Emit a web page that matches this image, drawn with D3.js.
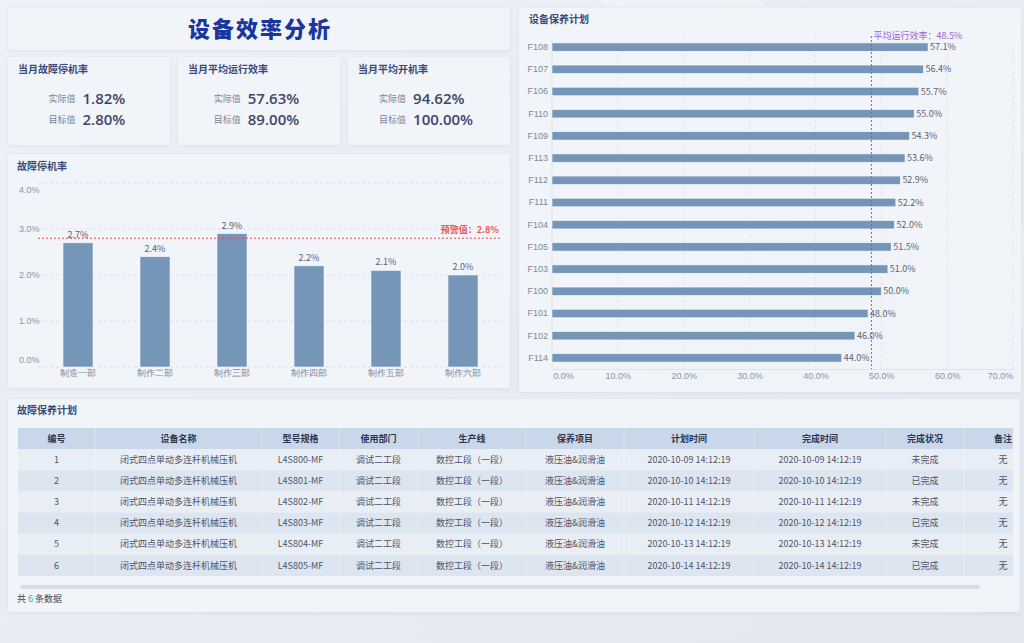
<!DOCTYPE html>
<html>
<head>
<meta charset="utf-8">
<script src="https://cdn.jsdelivr.net/npm/d3@7"></script>
<style>
  html, body { margin: 0; padding: 0; background: #e7ecf3; }
  svg { display: block; font-family: "Noto Sans CJK SC", "Noto Sans", sans-serif; }
</style>
</head>
<body>
<svg id="svg" width="1024" height="643"></svg>
<script>
// ---- data ----
var kpiTitles = ['当月故障停机率', '当月平均运行效率', '当月平均开机率'];
var kpiActual = ['1.82%', '57.63%', '94.62%'];
var kpiTarget = ['2.80%', '89.00%', '100.00%'];

var deptNames = ['制造一部', '制作二部', '制作三部', '制作四部', '制作五部', '制作六部'];
var downtimeRates = [2.7, 2.4, 2.9, 2.2, 2.1, 2.0];
var warnValue = 2.8;
var downtimeTicks = [0, 1, 2, 3, 4];

var equipIds = ['F108', 'F107', 'F106', 'F110', 'F109', 'F113', 'F112', 'F111', 'F104', 'F105', 'F103', 'F100', 'F101', 'F102', 'F114'];
var equipEff = [57.1, 56.4, 55.7, 55.0, 54.3, 53.6, 52.9, 52.2, 52.0, 51.5, 51.0, 50.0, 48.0, 46.0, 44.0];
var avgEff = 48.5;
var effTicks = [0, 10, 20, 30, 40, 50, 60, 70];

var tableHeaders = ['编号', '设备名称', '型号规格', '使用部门', '生产线', '保养项目', '计划时间', '完成时间', '完成状况', '备注'];
var rowIds = ['1', '2', '3', '4', '5', '6'];
var rowNames = ['闭式四点单动多连杆机械压机', '闭式四点单动多连杆机械压机', '闭式四点单动多连杆机械压机', '闭式四点单动多连杆机械压机', '闭式四点单动多连杆机械压机', '闭式四点单动多连杆机械压机'];
var rowModels = ['L4S800-MF', 'L4S801-MF', 'L4S802-MF', 'L4S803-MF', 'L4S804-MF', 'L4S805-MF'];
var rowDepts = ['调试二工段', '调试二工段', '调试二工段', '调试二工段', '调试二工段', '调试二工段'];
var rowLines = ['数控工段（一段）', '数控工段（一段）', '数控工段（一段）', '数控工段（一段）', '数控工段（一段）', '数控工段（一段）'];
var rowItems = ['液压油&润滑油', '液压油&润滑油', '液压油&润滑油', '液压油&润滑油', '液压油&润滑油', '液压油&润滑油'];
var rowPlan = ['2020-10-09 14:12:19', '2020-10-10 14:12:19', '2020-10-11 14:12:19', '2020-10-12 14:12:19', '2020-10-13 14:12:19', '2020-10-14 14:12:19'];
var rowDone = ['2020-10-09 14:12:19', '2020-10-10 14:12:19', '2020-10-11 14:12:19', '2020-10-12 14:12:19', '2020-10-13 14:12:19', '2020-10-14 14:12:19'];
var rowStatus = ['未完成', '已完成', '未完成', '已完成', '未完成', '已完成'];
var rowNotes = ['无', '无', '无', '无', '无', '无'];

var svg = d3.select('svg');

// background
var defs = svg.append('defs');
var bg = defs.append('linearGradient').attr('id', 'bg').attr('x1', 0).attr('y1', 0).attr('x2', 1).attr('y2', 1);
bg.append('stop').attr('offset', '0%').attr('stop-color', '#eef1f6');
bg.append('stop').attr('offset', '100%').attr('stop-color', '#e3e8f0');
var sh = defs.append('filter').attr('id', 'shadow').attr('x', '-5%').attr('y', '-5%').attr('width', '110%').attr('height', '110%');
sh.append('feDropShadow').attr('dx', 0).attr('dy', 1).attr('stdDeviation', 2)
    .attr('flood-color', '#b8c2d3').attr('flood-opacity', 0.35);
defs.append('clipPath').attr('id', 'tableClip').append('rect')
    .attr('x', 18).attr('y', 420).attr('width', 995).attr('height', 170);

svg.append('rect').attr('width', 1024).attr('height', 643).attr('fill', 'url(#bg)');
svg.append('path').attr('d', 'M600,0 L760,0 L1024,230 L1024,330 Z').attr('fill', '#ffffff').attr('opacity', 0.25);

function panel(x, y, w, h) {
    svg.append('rect').attr('x', x).attr('y', y).attr('width', w).attr('height', h)
        .attr('rx', 3).attr('fill', '#f2f5f9').attr('fill-opacity', 0.92)
        .attr('filter', 'url(#shadow)');
}
function panelTitle(x, y, t) {
    svg.append('text').attr('x', x).attr('y', y).attr('dy', '0.35em')
        .attr('font-size', 10).attr('font-weight', 700).attr('fill', '#3b4a78').text(t);
}

// title
panel(8, 8, 502, 42);
svg.append('text').attr('x', 260).attr('y', 29).attr('dy', '0.35em')
    .attr('text-anchor', 'middle').attr('font-size', 22).attr('font-weight', 900)
    .attr('letter-spacing', 2).attr('fill', '#1b36a0').text('设备效率分析');

// kpi cards
var cardX = [8, 178, 348];
kpiTitles.forEach(function (t, i) {
    var x0 = cardX[i];
    panel(x0, 57, 162, 88);
    panelTitle(x0 + 10, 69, t);
    var cx = x0 + 81;
    var valW = kpiTarget[i].length * 9.4;
    var gx = cx - (26 + 6 + valW) / 2;
    [['实际值', kpiActual[i], 99], ['目标值', kpiTarget[i], 120]].forEach(function (r) {
        svg.append('text').attr('x', gx + 26).attr('y', r[2]).attr('dy', '0.35em')
            .attr('text-anchor', 'end').attr('font-size', 9).attr('fill', '#7c8396').text(r[0]);
        svg.append('text').attr('x', gx + 33).attr('y', r[2]).attr('dy', '0.36em')
            .attr('font-family', '"Open Sans", sans-serif')
            .attr('font-size', 15).attr('font-weight', 600).attr('fill', '#3e4767').text(r[1]);
    });
});

// ---- downtime bar chart ----
panel(8, 154, 502, 234);
panelTitle(17, 166, '故障停机率');

var x1 = d3.scaleBand().domain(deptNames).range([39.5, 501.5]).paddingInner(0.61).paddingOuter(0.305);
var y1 = d3.scaleLinear().domain([0, 4]).range([367, 183]);

var g1 = svg.append('g');
g1.selectAll('line.grid').data(downtimeTicks).enter().append('line')
    .attr('x1', 38).attr('x2', 502)
    .attr('y1', function (d) { return y1(d); }).attr('y2', function (d) { return y1(d); })
    .attr('stroke', '#dde2ea').attr('stroke-dasharray', '3,3');

var yAx1 = g1.append('g').attr('transform', 'translate(19,0)')
    .call(d3.axisRight(y1).tickValues(downtimeTicks).tickSize(0)
        .tickFormat(function (d) { return d.toFixed(1) + '%'; }));
yAx1.select('.domain').remove();
yAx1.selectAll('text').attr('x', 0).attr('font-size', 9).attr('fill', '#8c94a7')
    .attr('dy', function (d) { return d === 4 ? '1.1em' : (d === 0 ? '-0.55em' : '0.32em'); });

g1.selectAll('rect.bar').data(downtimeRates).enter().append('rect')
    .attr('x', function (d, i) { return x1(deptNames[i]); })
    .attr('y', function (d) { return y1(d); })
    .attr('width', x1.bandwidth())
    .attr('height', function (d) { return y1(0) - y1(d); })
    .attr('fill', '#7596b9').attr('stroke', '#ffffff').attr('stroke-opacity', 0.7).attr('stroke-width', 0.8);

g1.selectAll('text.val').data(downtimeRates).enter().append('text')
    .attr('x', function (d, i) { return x1(deptNames[i]) + x1.bandwidth() / 2; })
    .attr('y', function (d) { return y1(d) - 5; })
    .attr('text-anchor', 'middle').attr('font-size', 9).attr('fill', '#5b6175')
    .text(function (d) { return d.toFixed(1) + '%'; });

var xAx1 = g1.append('g').attr('transform', 'translate(0,367)')
    .call(d3.axisBottom(x1).tickSize(0));
xAx1.select('.domain').remove();
xAx1.selectAll('text').attr('font-size', 9).attr('fill', '#7f879b').attr('dy', '0.75em').attr('y', 2);

g1.append('line').attr('x1', 38).attr('x2', 502)
    .attr('y1', y1(warnValue)).attr('y2', y1(warnValue))
    .attr('stroke', '#f0474a').attr('stroke-dasharray', '2,2');
g1.append('text').attr('x', 499).attr('y', y1(warnValue) - 5)
    .attr('text-anchor', 'end').attr('font-size', 9).attr('font-weight', 600).attr('fill', '#f2545a')
    .text('预警值：' + warnValue.toFixed(1) + '%');

// ---- efficiency horizontal bar chart ----
panel(519, 8, 502, 384);
panelTitle(529, 19, '设备保养计划');

var x2 = d3.scaleLinear().domain([0, 70]).range([552, 1013]);
var y2 = d3.scaleBand().domain(equipIds).range([36, 369]).paddingInner(0.62).paddingOuter(0.31);

var g2 = svg.append('g');
g2.selectAll('line.grid').data(effTicks.slice(1)).enter().append('line')
    .attr('x1', function (d) { return x2(d); }).attr('x2', function (d) { return x2(d); })
    .attr('y1', 36).attr('y2', 369)
    .attr('stroke', '#e0e4eb').attr('stroke-dasharray', '3,3');
g2.append('line').attr('x1', 552).attr('x2', 552).attr('y1', 36).attr('y2', 369).attr('stroke', '#dfe3ea');

var xAx2 = g2.append('g').attr('transform', 'translate(0,369)')
    .call(d3.axisBottom(x2).tickValues(effTicks).tickSize(0)
        .tickFormat(function (d) { return d.toFixed(1) + '%'; }));
xAx2.select('.domain').attr('stroke', '#dfe3ea');
xAx2.selectAll('text').attr('font-size', 9).attr('fill', '#8c94a7').attr('y', 4)
    .attr('dx', function (d) { return d === 0 ? 11 : (d === 70 ? -13 : 0); });

var yAx2 = g2.append('g').attr('transform', 'translate(548,0)')
    .call(d3.axisLeft(y2).tickSize(0));
yAx2.select('.domain').remove();
yAx2.selectAll('text').attr('x', 0).attr('font-size', 9).attr('fill', '#7f879b');

g2.selectAll('rect.bar').data(equipEff).enter().append('rect')
    .attr('x', x2(0))
    .attr('y', function (d, i) { return y2(equipIds[i]); })
    .attr('width', function (d) { return x2(d) - x2(0); })
    .attr('height', y2.bandwidth())
    .attr('fill', '#7596b9').attr('stroke', '#ffffff').attr('stroke-opacity', 0.7).attr('stroke-width', 0.8);

g2.selectAll('text.val').data(equipEff).enter().append('text')
    .attr('x', function (d) { return x2(d) + 2; })
    .attr('y', function (d, i) { return y2(equipIds[i]) + y2.bandwidth() / 2; })
    .attr('dy', '0.35em').attr('font-size', 9).attr('fill', '#5b6175')
    .text(function (d) { return d.toFixed(1) + '%'; });

g2.append('line').attr('x1', x2(avgEff)).attr('x2', x2(avgEff)).attr('y1', 36).attr('y2', 369)
    .attr('stroke', '#8b55e0').attr('stroke-dasharray', '2,2');
g2.append('text').attr('x', x2(avgEff) + 2).attr('y', 39)
    .attr('font-size', 9).attr('fill', '#9a62e0')
    .text('平均运行效率：' + avgEff.toFixed(1) + '%');

// ---- table ----
panel(8, 399, 1012, 213);
panelTitle(17, 410, '故障保养计划');

var colEdges = [18, 95, 262, 339, 418, 526, 624, 754, 886, 964, 1042];
var rows = rowIds.map(function (d, i) {
    return [d, rowNames[i], rowModels[i], rowDepts[i], rowLines[i], rowItems[i], rowPlan[i], rowDone[i], rowStatus[i], rowNotes[i]];
});
var rowY = d3.scaleBand().domain(d3.range(rows.length + 1)).range([428, 576]);

var tg = svg.append('g').attr('clip-path', 'url(#tableClip)');
var trs = tg.selectAll('g.row').data([tableHeaders].concat(rows)).enter().append('g')
    .attr('transform', function (d, i) { return 'translate(0,' + rowY(i) + ')'; });
trs.append('rect').attr('x', 18).attr('width', 1042 - 18).attr('height', rowY.bandwidth())
    .attr('fill', function (d, i) { return i === 0 ? '#c9d7ea' : (i % 2 === 1 ? '#e9eef5' : '#dce5f0'); });
trs.each(function (r, i) {
    var row = d3.select(this);
    r.forEach(function (cell, j) {
        if (j > 0) {
            row.append('line').attr('x1', colEdges[j]).attr('x2', colEdges[j])
                .attr('y1', 0).attr('y2', rowY.bandwidth())
                .attr('stroke', '#ffffff').attr('stroke-opacity', 0.35);
        }
        row.append('text').attr('x', (colEdges[j] + colEdges[j + 1]) / 2)
            .attr('y', rowY.bandwidth() / 2).attr('dy', '0.35em')
            .attr('text-anchor', 'middle').attr('font-size', 9)
            .attr('font-weight', i === 0 ? 700 : 400)
            .attr('fill', i === 0 ? '#2c3550' : '#4d546a')
            .text(cell);
    });
});

svg.append('rect').attr('x', 20).attr('y', 585).attr('width', 960).attr('height', 4)
    .attr('rx', 2).attr('fill', '#d9dde5');

var foot = svg.append('text').attr('x', 17).attr('y', 599).attr('dy', '0.35em')
    .attr('font-size', 9).attr('fill', '#3d4559');
foot.append('tspan').text('共 ');
foot.append('tspan').attr('fill', '#35aec9').text(rows.length);
foot.append('tspan').text(' 条数据');
</script>
</body>
</html>
